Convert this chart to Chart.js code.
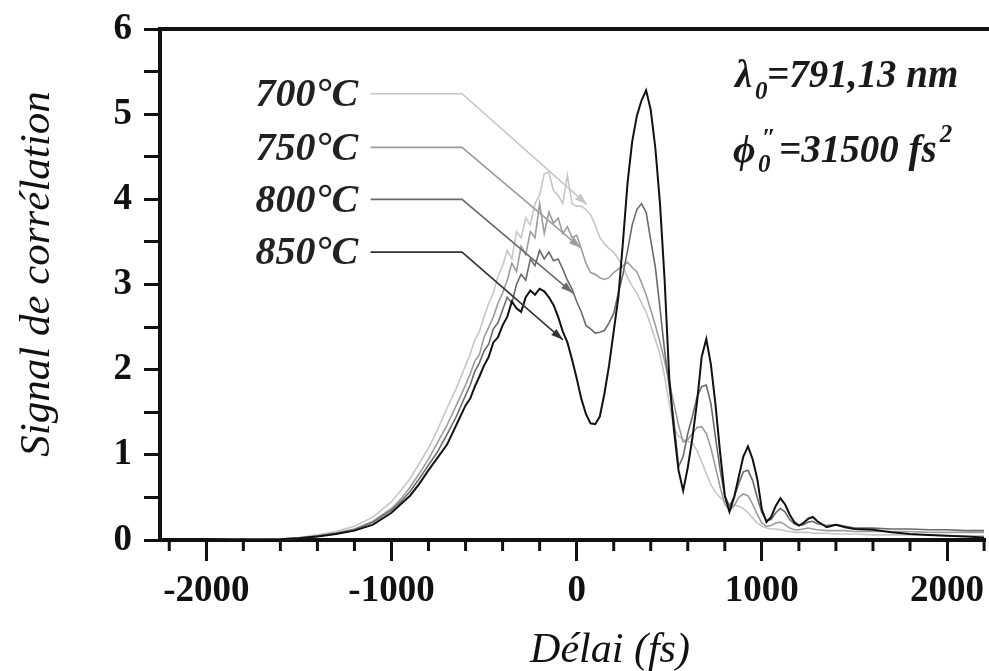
<!DOCTYPE html>
<html>
<head>
<meta charset="utf-8">
<script src="https://cdn.jsdelivr.net/npm/chart.js@4.4.1/dist/chart.umd.min.js"></script>
<style>
  html, body { margin: 0; padding: 0; background: #fff; }
  #wrap { width: 989px; height: 671px; }
</style>
</head>
<body>
<div id="wrap"><canvas id="corrChart" width="989" height="671"></canvas></div>
<script>
// delay axis (fs), shared by the four curves
const delay = [-2250,-2000,-1800,-1600,-1500,-1400,-1300,-1200,-1100,-1000,-950,-900,-850,-800,-750,-700,-650,-600,
  -575,-550,-525,-500,-475,-450,-425,-400,-375,-350,-325,-300,-275,-250,-225,-200,-175,-150,-125,-100,-75,-50,-25,
  0,25,50,75,100,125,150,175,200,225,250,275,300,325,350,375,400,425,450,475,500,525,550,575,600,625,650,675,700,
  725,750,775,800,825,850,875,900,925,950,975,1000,1025,1050,1075,1100,1125,1150,1175,1200,1225,1250,1275,1300,
  1350,1400,1450,1500,1600,1700,1800,1900,2000,2100,2200];

const s850 = [0,0,0.005,0.01,0.02,0.04,0.07,0.11,0.18,0.32,0.42,0.52,0.66,0.82,0.97,1.12,1.35,1.58,
  1.66,1.80,1.92,2.05,2.15,2.32,2.38,2.52,2.62,2.80,2.72,2.68,2.85,2.93,2.88,2.95,2.92,2.85,2.76,2.62,2.45,2.32,2.12,
  1.90,1.66,1.48,1.37,1.36,1.45,1.72,2.05,2.45,2.85,3.50,4.20,4.68,4.98,5.16,5.28,5.05,4.60,3.95,3.05,1.90,1.30,0.82,0.58,
  0.85,1.20,1.62,2.15,2.36,2.06,1.58,1.02,0.52,0.33,0.50,0.74,0.98,1.10,0.95,0.72,0.36,0.21,0.27,0.40,0.49,0.42,0.30,0.21,
  0.17,0.20,0.25,0.27,0.22,0.15,0.18,0.15,0.13,0.12,0.09,0.07,0.06,0.05,0.04,0.03];

const s800 = [0,0,0.005,0.01,0.02,0.045,0.075,0.12,0.21,0.35,0.45,0.57,0.72,0.88,1.04,1.24,1.45,1.70,
  1.82,1.98,2.08,2.22,2.30,2.48,2.55,2.70,2.85,2.78,3.00,3.12,3.05,3.30,3.22,3.40,3.30,3.38,3.28,3.30,3.18,3.05,2.95,
  2.80,2.68,2.52,2.48,2.43,2.44,2.46,2.55,2.66,2.90,3.12,3.40,3.70,3.88,3.95,3.85,3.52,3.20,2.72,2.22,1.80,1.40,0.86,0.98,
  1.25,1.45,1.68,1.80,1.82,1.60,1.20,0.82,0.52,0.40,0.50,0.66,0.80,0.82,0.70,0.50,0.32,0.23,0.24,0.32,0.37,0.33,0.24,0.19,
  0.17,0.18,0.21,0.22,0.19,0.17,0.18,0.16,0.14,0.14,0.13,0.13,0.12,0.12,0.11,0.11];

const s750 = [0,0,0.005,0.012,0.025,0.05,0.085,0.13,0.22,0.37,0.48,0.62,0.78,0.95,1.15,1.35,1.58,1.82,
  1.95,2.10,2.18,2.38,2.50,2.62,2.78,2.90,3.05,3.25,3.15,3.45,3.35,3.62,3.55,3.95,3.60,3.85,3.72,3.78,3.60,3.68,3.55,
  3.58,3.42,3.25,3.14,3.12,3.08,3.06,3.08,3.14,3.18,3.22,3.26,3.20,3.15,3.02,2.88,2.70,2.52,2.32,2.10,1.85,1.60,1.35,1.15,
  1.18,1.25,1.32,1.33,1.25,1.08,0.85,0.62,0.42,0.35,0.40,0.50,0.54,0.52,0.42,0.30,0.20,0.16,0.17,0.20,0.21,0.18,0.14,0.12,
  0.12,0.13,0.14,0.13,0.12,0.11,0.11,0.11,0.10,0.10,0.10,0.10,0.09,0.09,0.09,0.09];

const s700 = [0,0.002,0.008,0.015,0.03,0.06,0.10,0.16,0.27,0.45,0.58,0.72,0.90,1.08,1.30,1.55,1.78,2.05,
  2.18,2.35,2.45,2.62,2.78,2.90,3.10,3.22,3.40,3.30,3.62,3.55,3.78,3.70,3.95,4.05,4.30,4.32,4.10,4.05,3.95,4.28,3.95,
  3.92,3.92,3.88,3.82,3.70,3.55,3.48,3.42,3.38,3.30,3.20,3.08,2.98,2.90,2.78,2.68,2.52,2.35,2.18,1.92,1.60,1.32,1.22,1.18,
  1.16,1.14,1.05,0.92,0.78,0.65,0.56,0.50,0.45,0.42,0.41,0.40,0.37,0.32,0.26,0.20,0.16,0.14,0.13,0.13,0.12,0.11,0.10,0.09,
  0.09,0.09,0.09,0.08,0.08,0.08,0.07,0.07,0.07,0.06,0.06,0.06,0.06,0.05,0.05,0.05];

const seriesLabels = ['850°C', '800°C', '750°C', '700°C'];
const xTickLabels = [-2000, -1000, 0, 1000, 2000];
const yTickLabels = [0, 1, 2, 3, 4, 5, 6];

const colors = ['#111111', '#6a6a6a', '#9c9c9c', '#c6c6c6'];
const serif = 'Liberation Serif';

const toPoints = ys => delay.map((x, i) => ({ x: x, y: ys[i] }));

// callouts: label level and arrow tip, in data units
const callouts = [
  { text: '700°C', y: 5.24, tipX: 55, tipY: 3.94, color: '#c6c6c6' },
  { text: '750°C', y: 4.61, tipX: 22, tipY: 3.43, color: '#9c9c9c' },
  { text: '800°C', y: 4.00, tipX: -20, tipY: 2.90, color: '#6a6a6a' },
  { text: '850°C', y: 3.38, tipX: -74, tipY: 2.35, color: '#333333' }
];

const decorations = {
  id: 'decorations',
  afterDraw(chart) {
    const { ctx, chartArea } = chart;
    const xs = chart.scales.x, ys = chart.scales.y;
    ctx.save();

    // top frame line
    ctx.strokeStyle = '#111';
    ctx.lineWidth = 4;
    ctx.beginPath();
    ctx.moveTo(chartArea.left - 2, chartArea.top);
    ctx.lineTo(chart.width, chartArea.top);
    ctx.stroke();

    // minor ticks on the delay axis
    ctx.lineWidth = 3;
    for (let v = -2200; v <= 2200; v += 200) {
      if (v % 1000 === 0) continue;
      const px = xs.getPixelForValue(v);
      ctx.beginPath();
      ctx.moveTo(px, chartArea.bottom);
      ctx.lineTo(px, chartArea.bottom + 11);
      ctx.stroke();
    }

    // axis titles
    ctx.fillStyle = '#111';
    ctx.textAlign = 'center';
    ctx.textBaseline = 'middle';
    ctx.font = `italic 42px "${serif}"`;
    ctx.fillText('Délai (fs)', 610, 651);
    ctx.save();
    ctx.translate(38, 274);
    ctx.rotate(-Math.PI / 2);
    ctx.font = `italic 43px "${serif}"`;
    ctx.fillText('Signal de corrélation', 0, 0);
    ctx.restore();

    // callout labels with leader lines
    ctx.font = `italic bold 40px "${serif}"`;
    ctx.textAlign = 'right';
    ctx.textBaseline = 'middle';
    callouts.forEach(c => {
      const y = ys.getPixelForValue(c.y);
      ctx.fillStyle = '#222';
      ctx.fillText(c.text, xs.getPixelForValue(-1180), y + 2);
      const x0 = xs.getPixelForValue(-1113);
      const x1 = xs.getPixelForValue(-619);
      const tx = xs.getPixelForValue(c.tipX);
      const ty = ys.getPixelForValue(c.tipY);
      ctx.strokeStyle = c.color;
      ctx.fillStyle = c.color;
      ctx.lineWidth = 1.6;
      ctx.beginPath();
      ctx.moveTo(x0, y);
      ctx.lineTo(x1, y);
      ctx.lineTo(tx, ty);
      ctx.stroke();
      const ang = Math.atan2(ty - y, tx - x1);
      ctx.beginPath();
      ctx.moveTo(tx, ty);
      ctx.lineTo(tx - 12 * Math.cos(ang) + 4 * Math.sin(ang), ty - 12 * Math.sin(ang) - 4 * Math.cos(ang));
      ctx.lineTo(tx - 12 * Math.cos(ang) - 4 * Math.sin(ang), ty - 12 * Math.sin(ang) + 4 * Math.cos(ang));
      ctx.closePath();
      ctx.fill();
    });

    // parameters in the top right corner
    ctx.fillStyle = '#1a1a1a';
    ctx.textAlign = 'left';
    ctx.textBaseline = 'alphabetic';
    const big = `italic bold 39px "${serif}"`;
    const small = `italic bold 25px "${serif}"`;
    ctx.font = big;
    ctx.fillText('λ', 735, 87);
    ctx.font = small;
    ctx.fillText('0', 755, 99);
    ctx.font = big;
    ctx.fillText('=791,13 nm', 767, 87);

    ctx.fillText('ϕ', 733, 162);
    ctx.font = small;
    ctx.fillText('0', 758, 172);
    ctx.fillText('″', 762, 146);
    ctx.font = big;
    const rest = '=31500 fs';
    ctx.fillText(rest, 779, 162);
    const w = ctx.measureText(rest).width;
    ctx.font = small;
    ctx.fillText('2', 779 + w + 3, 142);
    ctx.restore();
  }
};

new Chart(document.getElementById('corrChart'), {
  type: 'line',
  data: {
    datasets: [s850, s800, s750, s700].map((s, i) => ({
      label: seriesLabels[i],
      data: toPoints(s),
      borderColor: colors[i],
      borderWidth: i === 0 ? 2 : 1.6,
      pointRadius: 0,
      fill: false,
      tension: 0
    }))
  },
  options: {
    responsive: false,
    animation: false,
    layout: { padding: { top: 29, right: 4, left: 0, bottom: 0 } },
    plugins: { legend: { display: false }, tooltip: { enabled: false } },
    scales: {
      x: {
        type: 'linear',
        min: -2250,
        max: 2205,
        afterFit: s => { s.height = 131; s.paddingRight = 0; s.paddingLeft = 0; },
        afterBuildTicks: s => { s.ticks = xTickLabels.map(v => ({ value: v })); },
        ticks: {
          font: { family: serif, size: 37, weight: 'bold' },
          color: '#111',
          padding: 8,
          maxRotation: 0,
          autoSkip: false,
          callback: v => String(v)
        },
        grid: { drawOnChartArea: false, tickLength: 21, tickWidth: 3, tickColor: '#111' },
        border: { display: true, color: '#111', width: 4 }
      },
      y: {
        min: 0,
        max: 6,
        afterFit: s => { s.width = 160; s.paddingTop = 0; s.paddingBottom = 0; },
        afterBuildTicks: s => {
          const t = [];
          yTickLabels.forEach((v, i) => {
            t.push({ value: v });
            if (i < yTickLabels.length - 1) t.push({ value: (v + yTickLabels[i + 1]) / 2 });
          });
          s.ticks = t;
        },
        ticks: {
          font: { family: serif, size: 37, weight: 'bold' },
          color: '#111',
          padding: 12,
          autoSkip: false,
          callback: v => Number.isInteger(v) ? String(v) : ''
        },
        grid: { drawOnChartArea: false, tickLength: 16, tickWidth: 3, tickColor: '#111' },
        border: { display: true, color: '#111', width: 4 }
      }
    }
  },
  plugins: [decorations]
});
</script>
</body>
</html>
